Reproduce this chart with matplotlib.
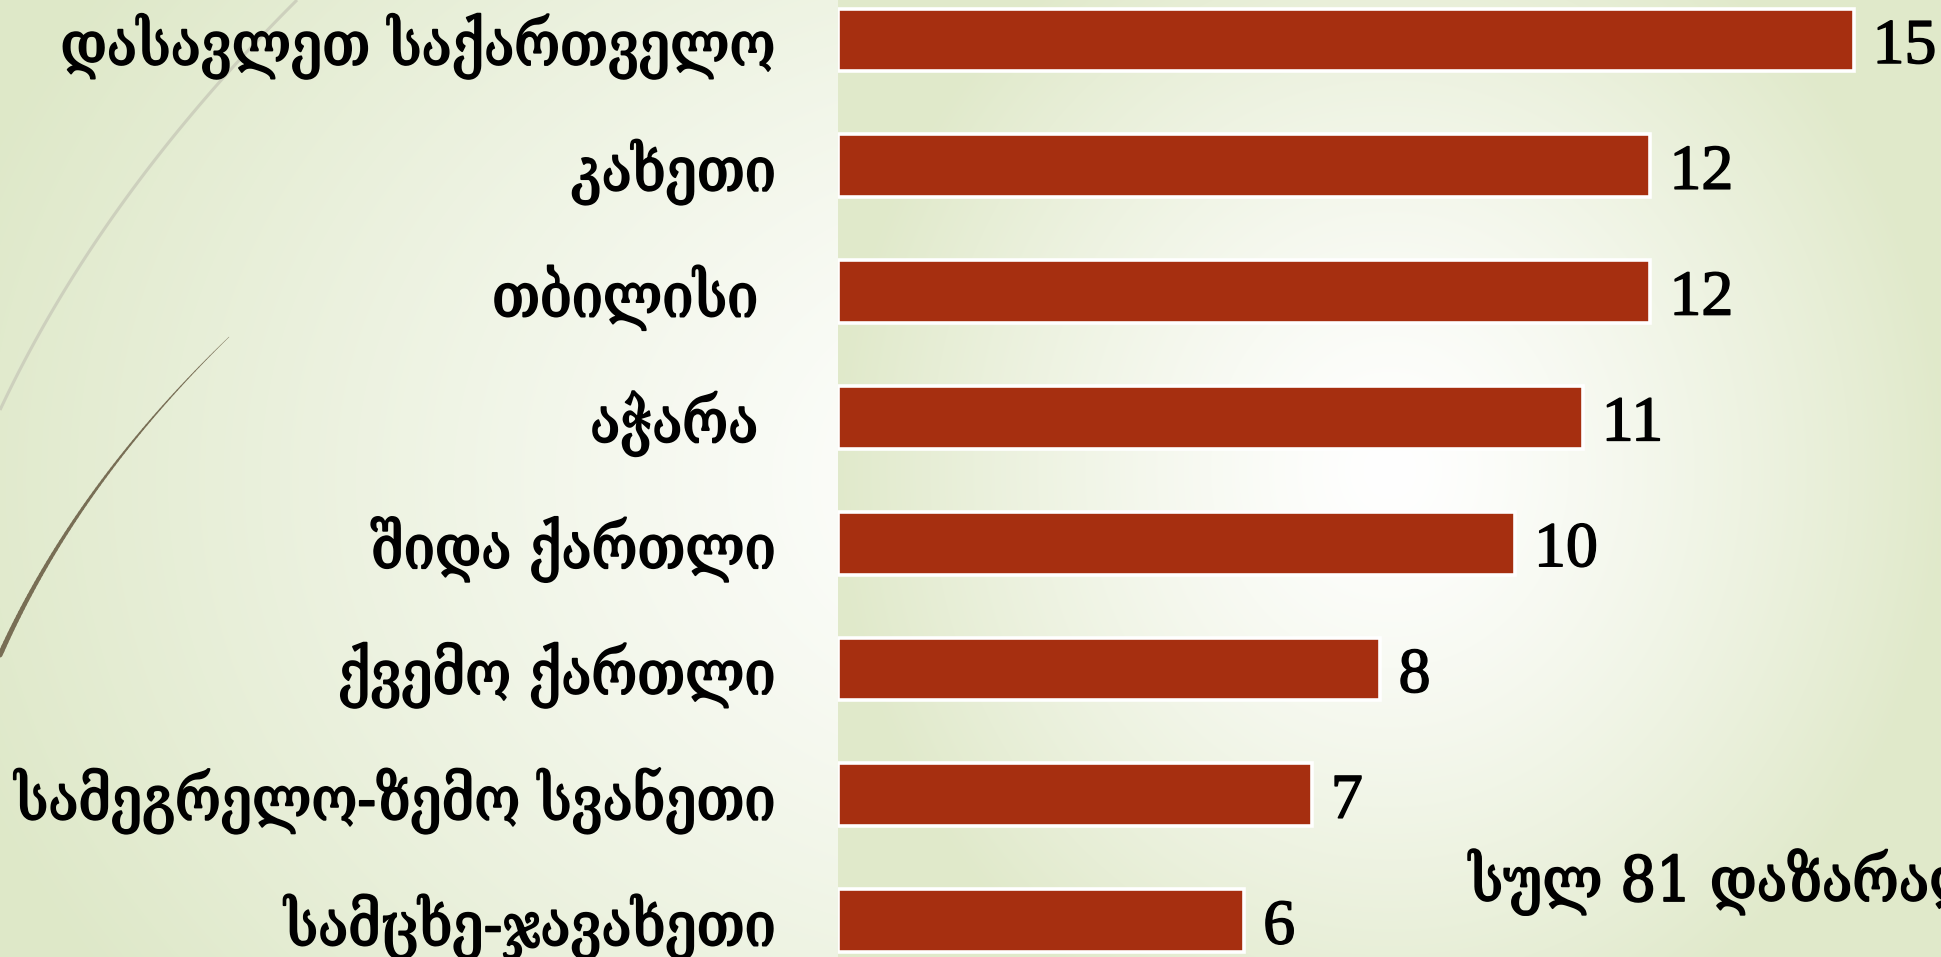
import numpy as np
import matplotlib
matplotlib.use('Agg')
import matplotlib.pyplot as plt
import matplotlib.patheffects as pe
from matplotlib import font_manager
from matplotlib.font_manager import FontProperties
from matplotlib.ft2font import FT2Font
from matplotlib.collections import LineCollection

# ---------------- data ----------------
regions = ["დასავლეთ საქართველო", "კახეთი", "თბილისი ", "აჭარა ",
           "შიდა ქართლი", "ქვემო ქართლი", "სამეგრელო-ზემო სვანეთი",
           "სამცხე-ჯავახეთი"]
counts = [15, 12, 12, 11, 10, 8, 7, 6]
total_label = "სულ 81 დაზარალებული"
total_visible_part = "სულ 81 დაზარა"

BAR_COLOR = '#a62f10'


def has_glyph(path, ch):
    try:
        return FT2Font(path).get_char_index(ord(ch)) != 0
    except Exception:
        return False


def geo_props():
    for key in ['DejaVuSerifCondensed.ttf', 'DejaVuSansCondensed.ttf']:
        for fe in font_manager.fontManager.ttflist:
            if fe.fname.endswith(key) and has_glyph(fe.fname, 'ა'):
                return FontProperties(fname=fe.fname)
    for name in ['DejaVu Serif', 'DejaVu Sans']:
        try:
            p = font_manager.findfont(FontProperties(family=name), fallback_to_default=False)
            if has_glyph(p, 'ა'):
                return FontProperties(fname=p)
        except Exception:
            pass
    return FontProperties(family='DejaVu Sans')


GEO = geo_props()
num_font = 'Liberation Serif'
thick_lab = [pe.withStroke(linewidth=1.3, foreground='black')]
thick_num = [pe.withStroke(linewidth=1.1, foreground='black')]

W, H = 1941, 957
fig = plt.figure(figsize=(W / 100, H / 100), dpi=100)

# ---------------- background ----------------
bg = fig.add_axes([0, 0, 1, 1], zorder=-10)
bg.set_xlim(0, W)
bg.set_ylim(H, 0)
bg.axis('off')
yy, xx = np.mgrid[0:H, 0:W] + 0.5
g1 = np.array([222, 232, 200]) / 255.0
d = np.sqrt(((xx - 1050) / 1150.0) ** 2 + ((yy - 480) / 900.0) ** 2)
t = np.clip(d, 0, 1) ** 1.2
img = 1 - t[..., None] * (1 - g1)
bg.imshow(img, extent=(0, W, H, 0), interpolation='bilinear', aspect='auto', zorder=0)

AX_L = 838
g2 = np.array([224, 233, 202]) / 255.0
yy2, xx2 = np.mgrid[0:H, AX_L:W] + 0.5
d2 = np.sqrt(((xx2 - 1390) / 560.0) ** 2 + ((yy2 - 470) / 620.0) ** 2)
t2 = np.clip(d2, 0, 1) ** 1.3
img2 = 1 - t2[..., None] * (1 - g2)
bg.imshow(img2, extent=(AX_L, W, H, 0), interpolation='bilinear', aspect='auto', zorder=1)


def qbez(p0, p1, p2, n=80):
    s = np.linspace(0, 1, n)[:, None]
    p0, p1, p2 = map(np.asarray, (p0, p1, p2))
    return (1 - s) ** 2 * p0 + 2 * (1 - s) * s * p1 + s ** 2 * p2


faint = qbez((297, 0), (101, 195), (0, 410))
bg.plot(faint[:, 0], faint[:, 1], color='#cdd0bd', lw=2.2, zorder=2, solid_capstyle='butt')
dark = qbez((229, 337), (76, 485), (0, 655))
segs = np.stack([dark[:-1], dark[1:]], axis=1)
lc = LineCollection(segs, colors='#786e55', linewidths=np.linspace(0.3, 3.6, len(segs)),
                    capstyle='round', zorder=3)
bg.add_collection(lc)

# ---------------- bar chart ----------------
PX_PER_UNIT = 67.7
ax = fig.add_axes([AX_L / W, 0, 1 - AX_L / W, 1])
ax.patch.set_alpha(0)
n = len(regions)
ypos = np.arange(n)
top_c, pitch = 40.0, 125.8
ax.set_ylim((H - top_c) / pitch, -top_c / pitch)
ax.set_xlim(0, (W - AX_L) / PX_PER_UNIT)
ax.barh(ypos, counts, height=0.5, color=BAR_COLOR, edgecolor='white', linewidth=2.6,
        zorder=3)
for s in ax.spines.values():
    s.set_visible(False)
ax.set_xticks([])
ax.set_yticks([])

px2pt = 72 / 100.0
num_size = 46
for y, v in zip(ypos, counts):
    ax.annotate(str(v), xy=(v, y), xytext=(19 * px2pt, -23 * px2pt),
                textcoords='offset points', ha='left', va='baseline',
                fontsize=num_size, family=[num_font, 'DejaVu Serif'],
                color='black', annotation_clip=False, zorder=5,
                path_effects=thick_num)

label_texts = []
for y, lab in zip(ypos, regions):
    tx = ax.annotate(lab, xy=(0, y), xytext=(-62 * px2pt, -25 * px2pt),
                     textcoords='offset points', ha='right', va='baseline',
                     fontproperties=GEO.copy(), color='black',
                     annotation_clip=False, zorder=5, path_effects=thick_lab)
    tx.set_fontsize(40)
    label_texts.append(tx)

tot = fig.text(1469 / W, 1 - 901 / H, total_label, ha='left', va='baseline',
               fontproperties=GEO.copy(), color='black', path_effects=thick_lab)
tot.set_fontsize(40)
probe = fig.text(0, 0, total_visible_part, fontproperties=GEO.copy(), alpha=0)
probe.set_fontsize(40)

# fit sizes to the reference's text extents
fig.canvas.draw()
r = fig.canvas.get_renderer()
widths = [tx.get_window_extent(r).width for tx in label_texts]
scale = 760.0 / max(widths)
for tx in label_texts:
    tx.set_fontsize(40 * scale)
pw = probe.get_window_extent(r).width
tot.set_fontsize(40 * 460.0 / pw)
probe.remove()

fig.savefig('out.png', dpi=100)
